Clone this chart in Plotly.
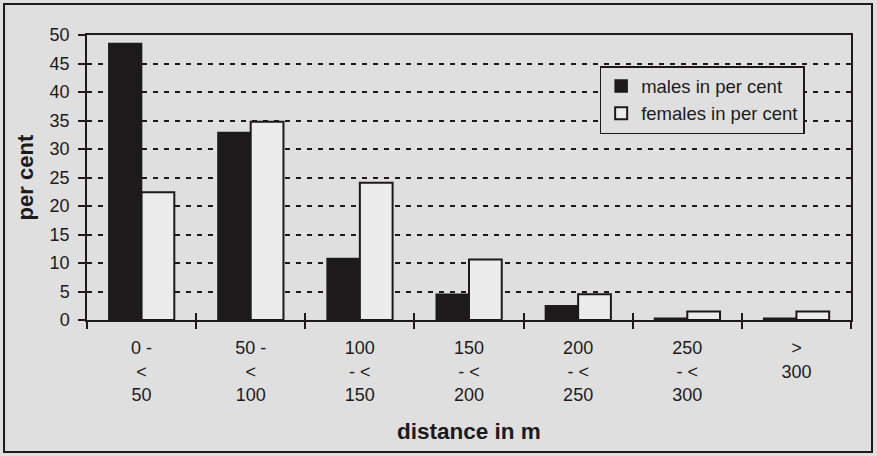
import plotly.graph_objects as go

# Distance classes (m) and share of animals per class
categories = ["0-50", "50-100", "100-150", "150-200", "200-250", "250-300", ">300"]
tick_labels = ["0 -<br><<br>50", "50 -<br><<br>100", "100<br>- <<br>150",
               "150<br>- <<br>200", "200<br>- <<br>250", "250<br>- <<br>300",
               "><br>300"]
males_pct = [48.5, 32.9, 10.8, 4.5, 2.5, 0.3, 0.3]
females_pct = [22.4, 34.8, 24.1, 10.6, 4.5, 1.5, 1.5]

FONT = "Liberation Sans, Arial, sans-serif"
INK = "#1c1a1b"
BG = "#dfdfdf"

fig = go.Figure()
fig.add_trace(go.Bar(
    x=categories, y=males_pct, name="males in per cent",
    marker=dict(color=INK, line=dict(color=INK, width=1.5)),
))
fig.add_trace(go.Bar(
    x=categories, y=females_pct, name="females in per cent",
    marker=dict(color="#ececec", line=dict(color=INK, width=2)),
))
# helper trace carrying the overlay axes (inner half of the crossing ticks)
fig.add_trace(go.Scatter(
    x=categories, y=[None] * len(categories), xaxis="x2", yaxis="y2",
    showlegend=False, hoverinfo="skip", mode="lines",
))

fig.update_layout(
    width=877, height=456,
    margin=dict(l=87, r=26, t=35, b=136),
    paper_bgcolor=BG, plot_bgcolor=BG,
    font=dict(family=FONT, size=18, color=INK),
    barmode="group", bargap=0.4, bargroupgap=0,
    showlegend=True,
    legend=dict(
        x=0.671, y=0.891, xanchor="left", yanchor="top",
        bgcolor=BG, bordercolor=INK, borderwidth=1.5,
        font=dict(family=FONT, size=18.5, color=INK),
        itemwidth=30, tracegroupgap=2,
    ),
    xaxis=dict(
        type="category", categoryarray=categories, range=[-0.5, 6.5],
        tickmode="array", tickvals=categories, ticktext=tick_labels,
        tickson="boundaries", ticks="outside", ticklen=7, tickwidth=1.5,
        tickcolor=INK, showline=True, linecolor=INK, linewidth=1.5,
        mirror=True, showgrid=False, zeroline=False,
        tickfont=dict(family=FONT, size=18, color=INK),
        ticklabelstandoff=11,
    ),
    xaxis2=dict(
        type="category", categoryarray=categories, range=[-0.5, 6.5],
        overlaying="x", side="bottom", tickson="boundaries",
        ticks="inside", ticklen=7, tickwidth=1.5, tickcolor=INK,
        showticklabels=False, showgrid=False, showline=False, zeroline=False,
    ),
    yaxis=dict(
        range=[0, 50], tickmode="linear", tick0=0, dtick=5,
        ticks="outside", ticklen=7, tickwidth=1.5, tickcolor=INK,
        showline=True, linecolor=INK, linewidth=1.5, mirror=True,
        showgrid=True, gridcolor=INK, gridwidth=1.5, griddash="5px,6px",
        zeroline=False,
        tickfont=dict(family=FONT, size=18, color=INK),
        ticklabelstandoff=5,
    ),
    yaxis2=dict(
        range=[0, 50], tickmode="linear", tick0=0, dtick=5,
        overlaying="y", side="left", ticks="inside", ticklen=3,
        tickwidth=1.5, tickcolor=INK, showticklabels=False,
        showgrid=False, showline=False, zeroline=False,
    ),
)

# axis titles
fig.add_annotation(
    text="<b>distance in m</b>", xref="paper", yref="paper",
    x=0.5, y=-0.39, xanchor="center", yanchor="middle", showarrow=False,
    font=dict(family=FONT, size=22.5, color=INK),
)
fig.add_annotation(
    text="<b>per cent</b>", xref="paper", yref="paper",
    x=-0.08, y=0.50, xanchor="center", yanchor="middle", showarrow=False,
    textangle=-90, font=dict(family=FONT, size=22, color=INK),
)

# outer frame around the whole chart
fig.add_shape(
    type="rect", xref="paper", yref="paper",
    x0=-0.1086, x1=1.0275, y0=-0.463, y1=1.1088,
    line=dict(color=INK, width=2), fillcolor="rgba(0,0,0,0)", layer="below",
)

fig.write_html("out.html")
